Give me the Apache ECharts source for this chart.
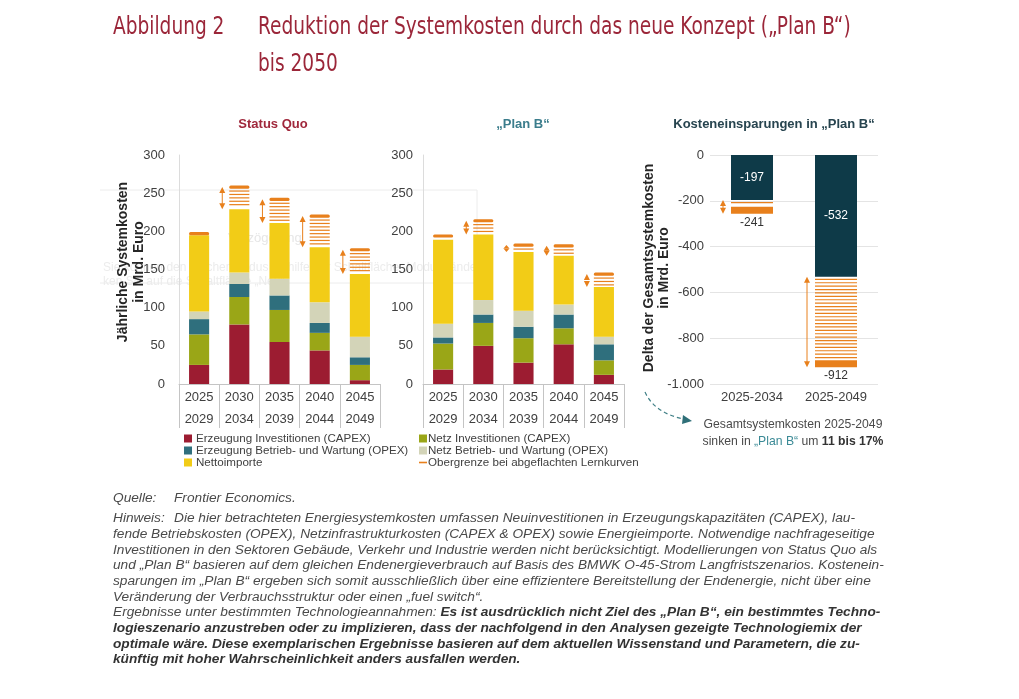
<!DOCTYPE html>
<html>
<head>
<meta charset="utf-8">
<script src="https://cdn.jsdelivr.net/npm/echarts@6/dist/echarts.min.js"></script>
<style>
html,body{margin:0;padding:0;background:#fff;}
#c{width:1019px;height:699px;}
</style>
</head>
<body>
<div id="c"></div>
<script>
// ---------------- DATA ----------------
const periods = ['2025\n2029', '2030\n2034', '2035\n2039', '2040\n2044', '2045\n2049'];
const seriesNames = ['Erzeugung Investitionen (CAPEX)', 'Netz Investitionen (CAPEX)', 'Erzeugung Betrieb- und Wartung (OPEX)', 'Netz Betrieb- und Wartung (OPEX)', 'Nettoimporte'];
const upperName = 'Obergrenze bei abgeflachten Lernkurven';

// Status Quo (Mrd. Euro p.a.)
const sqGenCapex  = [25, 78, 55, 44, 5];
const sqGridCapex = [40, 36, 42, 23, 20];
const sqGenOpex   = [20, 17, 19, 13, 10];
const sqGridOpex  = [10, 15, 22, 27, 27];
const sqImports   = [100, 83, 73, 72, 82];
const sqUpper     = [197, 258, 242, 220, 176];

// Plan B
const pbGenCapex  = [19, 50, 28, 52, 12];
const pbGridCapex = [34, 30, 32, 21, 19];
const pbGenOpex   = [8, 11, 15, 18, 21];
const pbGridOpex  = [18, 19, 21, 13, 10];
const pbImports   = [110, 86, 77, 64, 65];
const pbUpper     = [194, 214, 182, 181, 144];

// Savings
const savingsCats  = ['2025-2034', '2025-2049'];
const savingsBase  = [-197, -532];
const savingsUpper = [-241, -912];
// ---------------------------------------

const colors = ['#9c1c31', '#9aa617', '#2f6f7d', '#d3d4b8', '#f2cc17'];
const orange = '#e8801c';
const FONT = '"Liberation Sans", Arial, sans-serif';

function sumStack(arrs) { return arrs[0].map((_, i) => arrs.reduce((s, a) => s + a[i], 0)); }
const sqTotal = sumStack([sqGenCapex, sqGridCapex, sqGenOpex, sqGridOpex, sqImports]);
const pbTotal = sumStack([pbGenCapex, pbGridCapex, pbGenOpex, pbGridOpex, pbImports]);

function arrowShapes(x, y1, y2, children) {
  const top = Math.min(y1, y2), bot = Math.max(y1, y2);
  const span = bot - top;
  if (span < 5) return;
  const h = Math.min(6, span / 2);
  if (span > 2 * h + 1) {
    children.push({type: 'line', shape: {x1: x, y1: top + h - 1, x2: x, y2: bot - h + 1}, style: {stroke: orange, lineWidth: 1}});
  }
  children.push({type: 'polygon', shape: {points: [[x, top], [x - 3, top + h], [x + 3, top + h]]}, style: {fill: orange}});
  children.push({type: 'polygon', shape: {points: [[x, bot], [x - 3, bot - h], [x + 3, bot - h]]}, style: {fill: orange}});
}

function hatchLeft(params, api) {
  const i = api.value(0), base = api.value(1), upper = api.value(2);
  const pb = api.coord([i, base]), pu = api.coord([i, upper]);
  const x = pb[0], yb = pb[1], yu = pu[1];
  const w = api.size([1, 0])[0] * 0.5;
  const ch = [];
  for (let y = yu + 4; y < yb - 1.5; y += 3.4) {
    ch.push({type: 'line', shape: {x1: x - w / 2, y1: y, x2: x + w / 2, y2: y}, style: {stroke: orange, lineWidth: 1.2}});
  }
  ch.push({type: 'rect', shape: {x: x - w / 2, y: yu - 1.5, width: w, height: 3.2, r: 1.5}, style: {fill: orange}});
  arrowShapes(x - w / 2 - 7, yb, yu, ch);
  return {type: 'group', children: ch};
}

function hatchRight(params, api) {
  const i = api.value(0), base = api.value(1), upper = api.value(2);
  const pb = api.coord([i, base]), pu = api.coord([i, upper]);
  const x = pb[0], yb = pb[1], yu = pu[1];
  const w = api.size([1, 0])[0] * 0.5;
  const ch = [];
  for (let y = yb + 2.5; y < yu - 4.5; y += 3.4) {
    ch.push({type: 'line', shape: {x1: x - w / 2, y1: y, x2: x + w / 2, y2: y}, style: {stroke: orange, lineWidth: 1.2}});
  }
  ch.push({type: 'rect', shape: {x: x - w / 2, y: yu - 3.5, width: w, height: 7}, style: {fill: orange}});
  ch.push({type: 'text', style: {text: String(upper), x: x, y: yu + 12, align: 'center', verticalAlign: 'middle', fill: '#333', font: '12px ' + FONT}});
  arrowShapes(x - w / 2 - 8, yb, yu + 3.5, ch);
  return {type: 'group', children: ch};
}

function fmtDe(v) {
  const s = Math.abs(v).toString().replace(/\B(?=(\d{3})+(?!\d))/g, '.');
  return (v < 0 ? '-' : '') + s;
}

const gridTop = 155, gridH = 229;

function catAxis(gi) {
  return {
    type: 'category', gridIndex: gi, data: periods,
    axisLine: {lineStyle: {color: '#c4c4c4'}},
    axisTick: {show: true, length: 44, lineStyle: {color: '#c4c4c4'}},
    axisLabel: {color: '#404040', fontSize: 13, lineHeight: 22, margin: 2, fontFamily: FONT}
  };
}
function valAxisLeft(gi, margin) {
  return {
    type: 'value', gridIndex: gi, min: 0, max: 300, interval: 50,
    axisLine: {show: true, lineStyle: {color: '#dcdcdc'}},
    axisTick: {show: false}, splitLine: {show: false},
    axisLabel: {color: '#404040', fontSize: 13, margin: margin, fontFamily: FONT}
  };
}

const stacksSQ = [sqGenCapex, sqGridCapex, sqGenOpex, sqGridOpex, sqImports];
const stacksPB = [pbGenCapex, pbGridCapex, pbGenOpex, pbGridOpex, pbImports];

const series = [];
stacksSQ.forEach((d, k) => series.push({
  name: seriesNames[k], type: 'bar', xAxisIndex: 0, yAxisIndex: 0, stack: 'sq', data: d,
  barWidth: '50%', itemStyle: {color: colors[k]}, silent: true
}));
stacksPB.forEach((d, k) => series.push({
  name: seriesNames[k], type: 'bar', xAxisIndex: 1, yAxisIndex: 1, stack: 'pb', data: d,
  barWidth: '50%', itemStyle: {color: colors[k]}, silent: true
}));
series.push({
  name: upperName, type: 'custom', xAxisIndex: 0, yAxisIndex: 0, renderItem: hatchLeft,
  data: sqTotal.map((t, i) => [i, t, sqUpper[i]]), encode: {x: 0, y: [1, 2]}, itemStyle: {color: orange}, z: 5, silent: true
});
series.push({
  name: upperName, type: 'custom', xAxisIndex: 1, yAxisIndex: 1, renderItem: hatchLeft,
  data: pbTotal.map((t, i) => [i, t, pbUpper[i]]), encode: {x: 0, y: [1, 2]}, itemStyle: {color: orange}, z: 5, silent: true
});
series.push({
  name: 'Einsparung', type: 'bar', xAxisIndex: 2, yAxisIndex: 2, data: savingsBase, barWidth: '50%',
  itemStyle: {color: '#0e3a48'}, silent: true,
  label: {show: true, position: 'inside', color: '#fff', fontSize: 12, fontFamily: FONT}
});
series.push({
  name: upperName, type: 'custom', xAxisIndex: 2, yAxisIndex: 2, renderItem: hatchRight,
  data: savingsBase.map((b, i) => [i, b, savingsUpper[i]]), encode: {x: 0, y: [1, 2]}, itemStyle: {color: orange}, z: 5, silent: true
});

const hinweisLines = [
  'fende Betriebskosten (OPEX), Netzinfrastrukturkosten (CAPEX & OPEX) sowie Energieimporte. Notwendige nachfrageseitige',
  'Investitionen in den Sektoren Gebäude, Verkehr und Industrie werden nicht berücksichtigt. Modellierungen von Status Quo als',
  'und \u201EPlan B\u201C basieren auf dem gleichen Endenergieverbrauch auf Basis des BMWK O-45-Strom Langfristszenarios. Kostenein-',
  'sparungen im \u201EPlan B\u201C ergeben sich somit ausschließlich über eine effizientere Bereitstellung der Endenergie, nicht über eine',
  'Veränderung der Verbrauchsstruktur oder einen \u201Efuel switch\u201C.'
];
const boldLines = [
  'logieszenario anzustreben oder zu implizieren, dass der nachfolgend in den Analysen gezeigte Technologiemix der',
  'optimale wäre. Diese exemplarischen Ergebnisse basieren auf dem aktuellen Wissenstand und Parametern, die zu-',
  'künftig mit hoher Wahrscheinlichkeit anders ausfallen werden.'
];

const noteFont = 'italic 13.7px ' + FONT;
const noteBold = 'italic bold 13.7px ' + FONT;
const noteColor = '#4a4a4a';
const graphics = [];
function txt(text, x, y, font, fill, extra, elExtra) {
  graphics.push(Object.assign({type: 'text', x: x, y: y, silent: true,
    style: Object.assign({text: text, font: font, fill: fill, verticalAlign: 'middle'}, extra || {})}, elExtra || {}));
}
// faint ghost overlay box (screenshot artefact)
graphics.push({type: 'polyline', silent: true, shape: {points: [[100, 190], [477, 190], [477, 283], [100, 283]]}, style: {stroke: '#ececec', lineWidth: 1, fill: null}});
txt('Verzögerung', 228, 238, '13px ' + FONT, '#e6e6e6');
txt('Sie können den Zeichenmodus mithilfe der Schaltfläche „Modus“ ändern', 103, 268, '12px ' + FONT, '#ececec');
txt('ken Sie auf die Schaltfläche „Neu“', 103, 282, '12px ' + FONT, '#ececec');

// titles (condensed via horizontal scaling)
const titleFont = '24px "Liberation Sans Narrow", "DejaVu Sans Condensed", sans-serif';
const tScale = {scaleX: 0.86};
txt('Abbildung 2', 113, 28, titleFont, '#9b2639', null, tScale);
txt('Reduktion der Systemkosten durch das neue Konzept (\u201EPlan B\u201C)', 258, 28, titleFont, '#9b2639', null, tScale);
txt('bis 2050', 258, 65, titleFont, '#9b2639', null, tScale);

// panel titles
txt('Status Quo', 273, 124, 'bold 13px ' + FONT, '#a0283c', {align: 'center'});
txt('\u201EPlan B\u201C', 523, 124, 'bold 13px ' + FONT, '#3b7d8c', {align: 'center'});
txt('Kosteneinsparungen in \u201EPlan B\u201C', 774, 124, 'bold 13px ' + FONT, '#27444f', {align: 'center'});

// y axis titles
graphics.push({type: 'text', x: 131, y: 262, rotation: Math.PI / 2, silent: true,
  style: {text: 'Jährliche Systemkosten\nin Mrd. Euro', font: 'bold 14px ' + FONT, fill: '#262626', align: 'center', verticalAlign: 'middle', lineHeight: 16}});
graphics.push({type: 'text', x: 657, y: 268, rotation: Math.PI / 2, silent: true,
  style: {text: 'Delta der Gesamtsystemkosten\nin Mrd. Euro', font: 'bold 14px ' + FONT, fill: '#262626', align: 'center', verticalAlign: 'middle', lineHeight: 15}});

// curved dashed arrow + annotation
graphics.push({type: 'bezierCurve', silent: true, shape: {x1: 645, y1: 392, cpx1: 652, cpy1: 408, cpx2: 668, cpy2: 416, x2: 684, y2: 419},
  style: {stroke: '#3f7f86', lineWidth: 1.2, lineDash: [4, 3], fill: null}});
graphics.push({type: 'polygon', silent: true, shape: {points: [[692, 421], [683, 415], [682, 424]]}, style: {fill: '#2f6f78'}});
txt('Gesamtsystemkosten 2025-2049', 793, 425, '12.2px ' + FONT, '#4a4a4a', {align: 'center'});
graphics.push({type: 'text', x: 793, y: 442, silent: true, style: {
  text: '{a|sinken in }{b|\u201EPlan B\u201C}{a| um }{c|11 bis 17%}', align: 'center', verticalAlign: 'middle',
  rich: {a: {font: '12.2px ' + FONT, fill: '#4a4a4a'}, b: {font: '12.2px ' + FONT, fill: '#3b8a96'}, c: {font: 'bold 12.2px ' + FONT, fill: '#333'}}
}});

// notes
txt('Quelle:', 113, 498, noteFont, noteColor);
txt('Frontier Economics.', 174, 498, noteFont, noteColor);
txt('Hinweis:', 113, 518, noteFont, noteColor);
txt('Die hier betrachteten Energiesystemkosten umfassen Neuinvestitionen in Erzeugungskapazitäten (CAPEX), lau-', 174, 518, noteFont, noteColor);
hinweisLines.forEach((l, k) => txt(l, 113, 534 + k * 15.7, noteFont, noteColor));
graphics.push({type: 'text', x: 113, y: 612.5, silent: true, style: {
  text: '{a|Ergebnisse unter bestimmten Technologieannahmen: }{b|Es ist ausdrücklich nicht Ziel des \u201EPlan B\u201C, ein bestimmtes Techno-}',
  verticalAlign: 'middle', rich: {a: {font: noteFont, fill: noteColor}, b: {font: noteBold, fill: '#333'}}
}});
boldLines.forEach((l, k) => txt(l, 113, 628.2 + k * 15.7, noteBold, '#333'));

const legendText = {fontSize: 11.6, color: '#404040', lineHeight: 10.5};
const option = {
  animation: false,
  textStyle: {fontFamily: FONT},
  grid: [
    {left: 179, top: gridTop, width: 201, height: gridH},
    {left: 423, top: gridTop, width: 201, height: gridH},
    {left: 710, top: gridTop, width: 168, height: gridH}
  ],
  xAxis: [
    catAxis(0), catAxis(1),
    {type: 'category', gridIndex: 2, data: savingsCats, position: 'bottom',
      axisLine: {show: false, onZero: false}, axisTick: {show: false},
      axisLabel: {color: '#404040', fontSize: 13, margin: 7, fontFamily: FONT}}
  ],
  yAxis: [
    valAxisLeft(0, 14), valAxisLeft(1, 10),
    {type: 'value', gridIndex: 2, min: -1000, max: 0, interval: 200,
      axisLine: {show: false}, axisTick: {show: false},
      splitLine: {show: true, lineStyle: {color: '#e4e4e4'}},
      axisLabel: {color: '#404040', fontSize: 13, margin: 6, fontFamily: FONT, formatter: fmtDe}}
  ],
  legend: [
    {orient: 'vertical', left: 184, top: 432.5, itemWidth: 8, itemHeight: 8, itemGap: 0, padding: 0, selectedMode: false,
      textStyle: Object.assign({padding: [0, 0, 0, -1]}, legendText), icon: 'rect',
      data: [seriesNames[0], seriesNames[2], seriesNames[4]]},
    {orient: 'vertical', left: 419, top: 432.5, itemWidth: 8, itemHeight: 8, itemGap: 0, padding: 0, selectedMode: false,
      textStyle: Object.assign({padding: [0, 0, 0, -4]}, legendText),
      data: [{name: seriesNames[1], icon: 'rect'}, {name: seriesNames[3], icon: 'rect'},
        {name: upperName, icon: 'path://M0,4L10,4L10,6L0,6Z', itemStyle: {color: orange}}]}
  ],
  graphic: graphics,
  series: series
};

const chart = echarts.init(document.getElementById('c'), null, {renderer: 'canvas'});
chart.setOption(option);
</script>
</body>
</html>
